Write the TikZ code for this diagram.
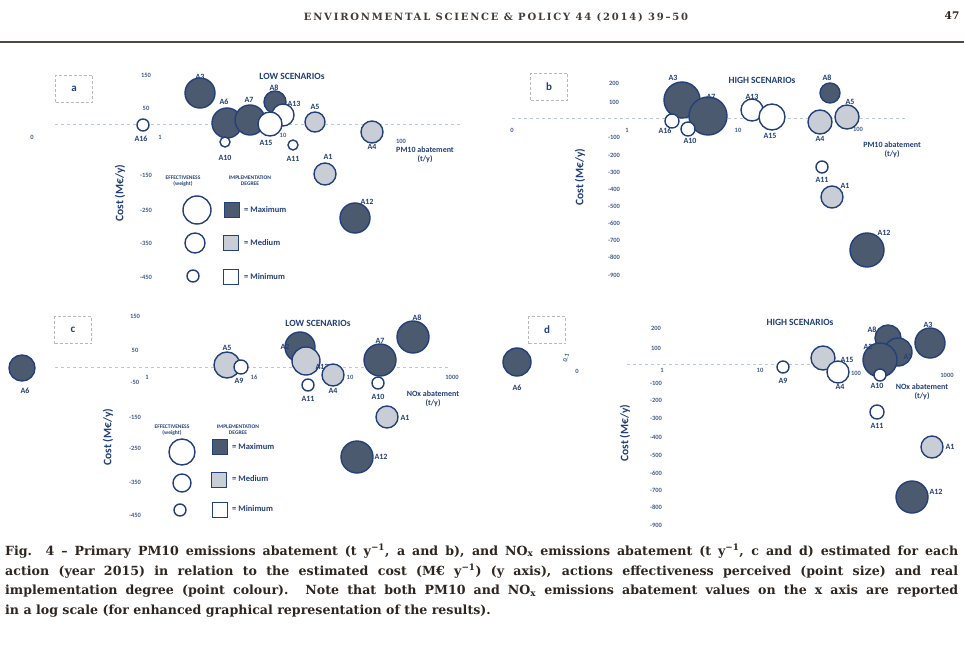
\documentclass[tikz,border=0pt]{standalone}
\usepackage{fontspec}
\setmainfont{DejaVu Serif}
\newfontfamily\plotfont{Carlito}
\newfontfamily\hdrfont[LetterSpace=18]{DejaVu Serif}
\definecolor{pblue}{HTML}{23407A}
\definecolor{dfill}{HTML}{4B5A6E}
\definecolor{mfill}{HTML}{C9CED6}
\definecolor{captc}{HTML}{2E2620}
\newcommand\bub[4]{\node[#1, minimum size=#4pt] (#2) at (#3) {};}
\newcommand\lab[2]{\node[lbl] at (#1) {#2};}
\newcommand\tk[2]{\node[tick] at (#1) {#2};}
\begin{document}
\begin{tikzpicture}[x=1pt,y=-1pt,
  lbl/.style={font=\plotfont\bfseries\fontsize{8}{9}\selectfont, text=pblue, inner sep=0},
  tick/.style={font=\plotfont\bfseries\fontsize{6.5}{7}\selectfont, text=pblue!85, inner sep=0},
  ttl/.style={font=\plotfont\bfseries\fontsize{9.5}{10}\selectfont, text=pblue, inner sep=0},
  axlab/.style={font=\plotfont\bfseries\fontsize{11.5}{12}\selectfont, text=pblue, rotate=90, inner sep=0},
  xlab/.style={font=\plotfont\bfseries\fontsize{8}{9}\selectfont, text=pblue, inner sep=0, align=center},
  leghead/.style={font=\plotfont\bfseries\fontsize{5.5}{6}\selectfont, text=pblue, inner sep=0, align=center},
  legtxt/.style={font=\plotfont\bfseries\fontsize{8.5}{9}\selectfont, text=pblue, inner sep=0, anchor=west},
  hi/.style={circle, draw=pblue, line width=1.4pt, fill=dfill, inner sep=0},
  me/.style={circle, draw=pblue, line width=1.4pt, fill=mfill, inner sep=0},
  lo/.style={circle, draw=pblue, line width=1.4pt, fill=white, inner sep=0},
  sqhi/.style={rectangle, draw=pblue, line width=1pt, fill=dfill, minimum size=15pt, inner sep=0},
  sqme/.style={rectangle, draw=pblue, line width=1pt, fill=mfill, minimum size=15pt, inner sep=0},
  sqlo/.style={rectangle, draw=pblue, line width=1pt, fill=white, minimum size=15pt, inner sep=0},
  panelbox/.style={draw=gray!55, densely dashed, line width=0.6pt, minimum width=37pt, minimum height=27pt, inner sep=0,
    font=\plotfont\bfseries\fontsize{11}{12}\selectfont, text=pblue},
  axisline/.style={draw=pblue!30, dashed, line width=0.7pt},
  capline/.style={anchor=west, inner sep=0, text=captc, font=\bfseries\fontsize{12.6}{14}\selectfont}
]
\useasboundingbox[fill=white] (0,0) rectangle (964,650);

% ---------------- header
\node[inner sep=0, text=captc!90, font=\hdrfont\bfseries\fontsize{10}{11}\selectfont] (hdr) at (496,17) {ENVIRONMENTAL SCIENCE \& POLICY 44 (2014) 39–50};
\node[inner sep=0, text=captc, font=\bfseries\fontsize{10.5}{11}\selectfont] (pg) at (952,16) {47};
\coordinate (rl) at (0,42);
\coordinate (rr) at (964,42);
\draw[line width=1.6pt, captc!85] (rl) -- (rr);

% ================= PANEL A
\node[panelbox] (pa) at (74,89) {a};
\coordinate (axa1) at (55,124); \coordinate (axa2) at (460,124);
\draw[axisline] (axa1) -- (axa2);
\tk{146,75}{150} \tk{146,108}{50} \tk{146,175}{-150} \tk{146,210}{-250} \tk{146,243}{-350} \tk{146,277}{-450}
\node[tick] at (32,137) {0};
\tk{160,137}{1} \tk{283,135}{10} \tk{401,141}{100}
\node[axlab] (cya) at (120,193) {Cost (M€/y)};
\node[ttl] (ta) at (292,76) {LOW SCENARIOs};
\node[xlab] (xa) at (425,155) {PM10 abatement\\(t/y)};
% bubbles
\bub{lo}{a16}{143,125}{12} \lab{141,139}{A16}
\bub{hi}{a3}{200,93}{30} \lab{200,77}{A3}
\bub{hi}{a6}{227,123}{30} \lab{224,102}{A6}
\bub{hi}{a7}{250,120}{30} \lab{249,100}{A7}
\bub{lo}{a10}{225,142}{10} \lab{225,158}{A10}
\bub{hi}{a8}{275,102}{22} \lab{274,88}{A8}
\bub{lo}{a13}{283,115}{22} \lab{294,104}{A13}
\bub{lo}{a15}{270,124}{24} \lab{266,143}{A15}
\bub{lo}{a11}{293,145}{10} \lab{293,159}{A11}
\bub{me}{a5}{315,122}{20} \lab{315,107}{A5}
\bub{me}{a1}{325,174}{22} \lab{328,157}{A1}
\bub{me}{a4}{372,132}{22} \lab{372,147}{A4}
\bub{hi}{a12}{355,218}{30} \lab{367,202}{A12}
% legend
\node[leghead] (lha) at (183,181) {EFFECTIVENESS\\(weight)};
\node[leghead] (lia) at (250,181) {IMPLEMENTATION\\DEGREE};
\bub{lo}{la1}{197,210}{28} \bub{lo}{la2}{195,243}{20} \bub{lo}{la3}{193,276}{12}
\node[sqhi] (qa1) at (232,210) {}; \node[sqme] (qa2) at (231,243) {}; \node[sqlo] (qa3) at (231,277) {};
\node[legtxt] at (244,210) {= Maximum};
\node[legtxt] at (244,243) {= Medium};
\node[legtxt] at (244,277) {= Minimum};

% ================= PANEL B
\node[panelbox] (pb) at (549,87) {b};
\coordinate (axb1) at (512,118); \coordinate (axb2) at (905,118);
\draw[axisline] (axb1) -- (axb2);
\tk{614,83}{200} \tk{614,102}{100} \tk{614,137}{-100} \tk{614,155}{-200} \tk{614,172}{-300}
\tk{614,189}{-400} \tk{614,206}{-500} \tk{614,223}{-600} \tk{614,240}{-700} \tk{614,257}{-800} \tk{614,275}{-900}
\tk{512,130}{0} \tk{627,130}{1} \tk{738,130}{10} \tk{858,129}{100}
\node[axlab] (cyb) at (580,177) {Cost (M€/y)};
\node[ttl] (tb) at (762,80) {HIGH SCENARIOs};
\node[xlab] (xb) at (892,150) {PM10 abatement\\(t/y)};
\bub{hi}{b3}{682,100}{36} \lab{673,78}{A3}
\bub{hi}{b7}{708,116}{38} \lab{711,97}{A7}
\bub{lo}{b16}{672,121}{14} \lab{665,131}{A16}
\bub{lo}{b10}{688,129}{14} \lab{690,141}{A10}
\bub{lo}{b13}{752,110}{22} \lab{752,97}{A13}
\bub{lo}{b15}{772,117}{26} \lab{770,136}{A15}
\bub{hi}{b8}{830,93}{20} \lab{827,78}{A8}
\bub{me}{b4}{820,122}{24} \lab{820,139}{A4}
\bub{me}{b5}{847,117}{24} \lab{850,102}{A5}
\bub{lo}{b11}{822,167}{12} \lab{822,180}{A11}
\bub{me}{b1}{832,197}{22} \lab{845,186}{A1}
\bub{hi}{b12}{867,250}{34} \lab{884,233}{A12}

% ================= PANEL C
\node[panelbox] (pc) at (73,330) {c};
\coordinate (axc1) at (55,367); \coordinate (axc2) at (450,367);
\draw[axisline] (axc1) -- (axc2);
\tk{135,316}{150} \tk{135,350}{50} \tk{135,382}{-50} \tk{135,417}{-150} \tk{135,448}{-250} \tk{135,482}{-350} \tk{135,515}{-450}
\tk{147,377}{1} \tk{350,377}{10} \tk{452,377}{1000}
\node[axlab] (cyc) at (108,437) {Cost (M€/y)};
\node[ttl] (tc) at (318,323) {LOW SCENARIOs};
\node[xlab] (xc) at (433,399) {NOx abatement\\(t/y)};
\bub{hi}{c6}{22,368}{26} \lab{25,391}{A6}
\bub{me}{c5}{227,365}{26} \lab{227,348}{A5}
\bub{lo}{c9}{241,367}{14} \lab{239,381}{A9} \node[tick] at (254,377) {16};
\bub{hi}{c2}{300,347}{30} \lab{285,347}{A2}
\bub{me}{c13}{306,361}{28} \lab{322,367}{A13}
\bub{lo}{c11}{308,385}{12} \lab{308,399}{A11}
\bub{me}{c4}{333,375}{22} \lab{333,391}{A4}
\bub{hi}{c7}{380,360}{32} \lab{380,341}{A7}
\bub{hi}{c8}{413,337}{32} \lab{417,318}{A8}
\bub{lo}{c10}{378,383}{12} \lab{378,397}{A10}
\bub{me}{c1}{387,417}{22} \lab{405,418}{A1}
\bub{hi}{c12}{357,457}{32} \lab{381,457}{A12}
% legend
\node[leghead] (lhc) at (172,430) {EFFECTIVENESS\\(weight)};
\node[leghead] (lic) at (238,430) {IMPLEMENTATION\\DEGREE};
\bub{lo}{lc1}{182,452}{26} \bub{lo}{lc2}{182,483}{18} \bub{lo}{lc3}{180,510}{12}
\node[sqhi] (qc1) at (220,447) {}; \node[sqme] (qc2) at (219,480) {}; \node[sqlo] (qc3) at (220,510) {};
\node[legtxt] at (232,447) {= Maximum};
\node[legtxt] at (232,479) {= Medium};
\node[legtxt] at (232,509) {= Minimum};

% ================= PANEL D
\node[panelbox] (pd) at (547,330) {d};
\coordinate (axd1) at (627,364); \coordinate (axd2) at (820,364);
\draw[axisline] (axd1) -- (axd2);
\tk{656,328}{200} \tk{656,348}{100} \tk{656,383}{-100} \tk{656,400}{-200} \tk{656,418}{-300}
\tk{656,437}{-400} \tk{656,455}{-500} \tk{656,473}{-600} \tk{656,490}{-700} \tk{656,507}{-800} \tk{656,525}{-900}
\node[tick, rotate=75] at (566,358) {0.1};
\tk{577,371}{0} \tk{662,370}{1} \tk{760,370}{10} \tk{856,373}{100} \tk{947,375}{1000}
\node[axlab] (cyd) at (625,433) {Cost (M€/y)};
\node[ttl] (td) at (800,322) {HIGH SCENARIOs};
\node[xlab] (xd) at (922,392) {NOx abatement\\(t/y)};
\bub{hi}{d6}{517,362}{28} \lab{517,388}{A6}
\bub{lo}{d9}{783,367}{12} \lab{783,381}{A9}
\bub{me}{d15}{823,358}{24} \lab{847,360}{A15}
\bub{lo}{d4}{838,372}{22} \lab{840,387}{A4}
\bub{hi}{d8}{888,338}{26} \lab{872,330}{A8}
\bub{hi}{d7}{898,352}{28} \lab{908,357}{A7}
\bub{hi}{d2}{880,360}{34} \lab{868,347}{A2}
\bub{hi}{d3}{930,343}{30} \lab{928,325}{A3}
\bub{lo}{d10}{880,375}{12} \lab{877,386}{A10}
\bub{lo}{d11}{877,412}{14} \lab{877,426}{A11}
\bub{me}{d1}{932,447}{22} \lab{950,447}{A1}
\bub{hi}{d12}{912,497}{32} \lab{936,492}{A12}

% ================= CAPTION
\node[capline] (c1) at (5,551) {\hbox to 953pt{Fig. 4 – Primary PM10 emissions abatement (t y\textsuperscript{−1}, a and b), and NO\textsubscript{x} emissions abatement (t y\textsuperscript{−1}, c and d) estimated for each}};
\node[capline] (c2) at (5,571) {\hbox to 953pt{action (year 2015) in relation to the estimated cost (M€ y\textsuperscript{−1}) (y axis), actions effectiveness perceived (point size) and real}};
\node[capline] (c3) at (5,591) {\hbox to 953pt{implementation degree (point colour). Note that both PM10 and NO\textsubscript{x} emissions abatement values on the x axis are reported}};
\node[capline] (c4) at (5,611) {in a log scale (for enhanced graphical representation of the results).};
\end{tikzpicture}
\end{document}
